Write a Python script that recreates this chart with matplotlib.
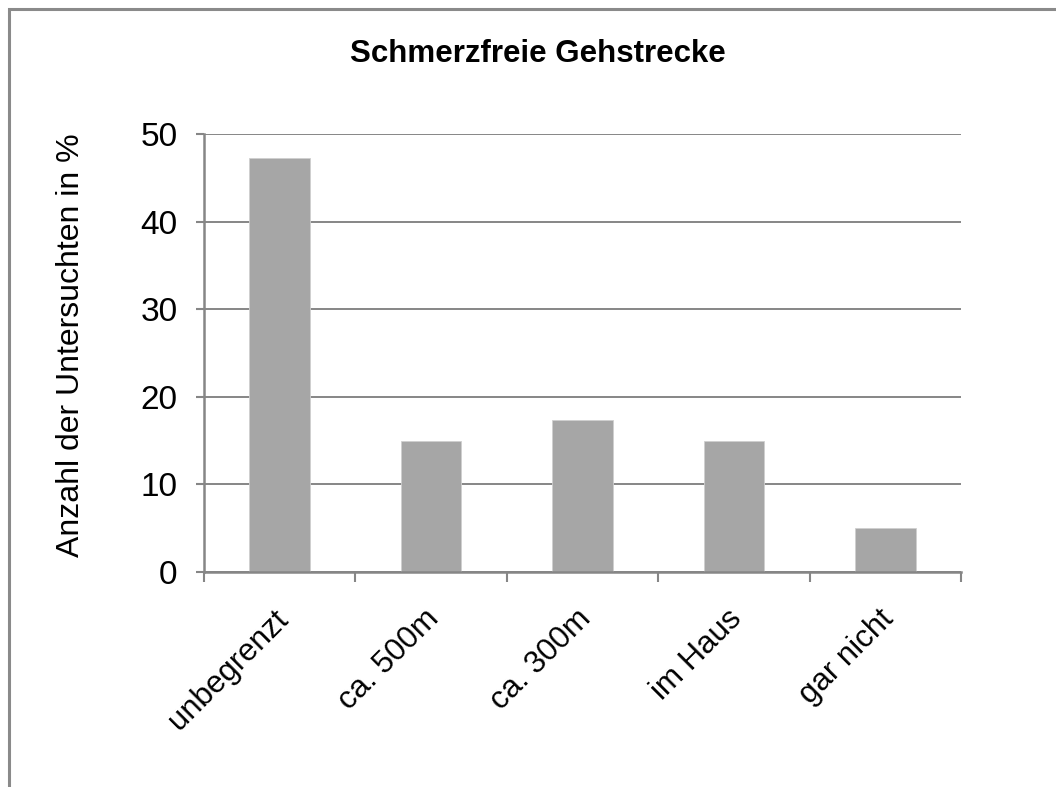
import numpy as np
import matplotlib
matplotlib.use("Agg")
import matplotlib.pyplot as plt
from matplotlib.patches import Rectangle

# walking distance without pain, share of examined patients
categories = ["unbegrenzt", "ca. 500m", "ca. 300m", "im Haus", "gar nicht"]
percent = [47.3, 14.9, 17.4, 14.9, 5.0]
y_ticks = [0, 10, 20, 30, 40, 50]

plt.rcParams["font.family"] = ["Liberation Sans", "DejaVu Sans"]
grey = "#868686"

fig = plt.figure(figsize=(10.56, 7.87), dpi=100)
ax = fig.add_axes([204 / 1056, 1 - 572 / 787, (961 - 204) / 1056, (572 - 134) / 787])

# outer chart frame (only top and left edge fall inside the image)
fig.patches.append(Rectangle((9 / 1056, -0.5), 2.0, 1.5 - 9 / 787,
                             transform=fig.transFigure, fill=False,
                             edgecolor="#8a8a8a", linewidth=2.2))

x = np.arange(len(categories))
ax.bar(x, percent, width=0.4, color="#a6a6a6", edgecolor="#cfcfcf", linewidth=0.6, zorder=2)

ax.set_xlim(-0.5, len(categories) - 0.5)
ax.set_ylim(0, 50)
ax.set_yticks(y_ticks)
ax.yaxis.grid(True, color=grey, linewidth=1.4)
ax.set_axisbelow(True)

# tick marks on category boundaries, labels at the bar centres
ax.set_xticks(np.arange(-0.5, len(categories), 1.0))
ax.set_xticklabels([])
for i, name in zip(x, categories):
    ax.annotate(name, xy=(i, 0), xycoords=("data", "axes fraction"),
                xytext=(-5, -23), textcoords="offset points",
                rotation=45, ha="right", va="top", rotation_mode="anchor",
                fontsize=22.5)
ax.tick_params(axis="x", length=7, width=1.5, color=grey)
ax.tick_params(axis="y", length=6, width=1.5, color=grey, labelsize=24, pad=13)

for side in ["top", "right"]:
    ax.spines[side].set_visible(False)
for side in ["left", "bottom"]:
    ax.spines[side].set_color(grey)
    ax.spines[side].set_linewidth(1.8)

fig.text(0.509, 1 - 62 / 787, "Schmerzfreie Gehstrecke", ha="center", va="baseline",
         fontsize=22.5, fontweight="bold")
fig.text(71 / 1056, 1 - 345 / 787, "Anzahl der Untersuchten in %", rotation=90,
         ha="center", va="center", fontsize=23)

fig.savefig("out.png", dpi=100, facecolor="white")
